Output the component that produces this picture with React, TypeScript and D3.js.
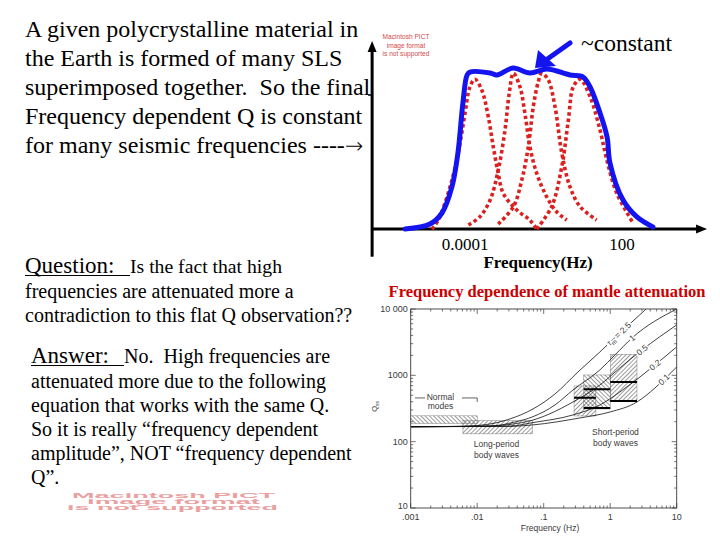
import React from "react";
import * as d3 from "d3";

// ---- top-right sketch: log10(frequency) vs. relative attenuation ----
const envelope: [number, number][] = [
  [-6.29, 0], [-5.34, 0.032], [-4.88, 0.104], [-4.5, 0.273], [-4.27, 0.494], [-4.08, 0.818],
  [-3.92, 1.0], [-3.81, 1.019], [-3.04, 1.013], [-2.78, 1.0], [-2.17, 1.045], [-1.52, 1.013],
  [-0.87, 1.039], [0.01, 1.0], [0.51, 0.987], [0.78, 0.922], [1.16, 0.753], [1.43, 0.597],
  [1.54, 0.429], [2.04, 0.188], [2.57, 0.078], [3.18, 0.013],
];

const peak1: [number, number][] = [
  [-5.27, 0], [-5.02, 0.058], [-4.57, 0.275], [-4.26, 0.492], [-4.0, 0.751], [-3.81, 0.924],
  [-3.62, 0.972], [-3.36, 0.903], [-3.11, 0.729], [-2.92, 0.534], [-2.73, 0.362], [-2.54, 0.232],
  [-2.02, 0.123], [-1.52, 0.058], [-1.26, 0],
];
const peak2: [number, number][] = [
  [-3.87, 0.026], [-3.43, 0.08], [-3.04, 0.188], [-2.73, 0.383], [-2.47, 0.643], [-2.31, 0.881],
  [-2.15, 1.011], [-1.9, 0.924], [-1.71, 0.751], [-1.52, 0.534], [-1.26, 0.362], [-0.88, 0.21],
  [-0.5, 0.112], [-0.11, 0.058],
];
const peak3: [number, number][] = [
  [-2.73, 0.032], [-2.15, 0.145], [-1.83, 0.318], [-1.58, 0.534], [-1.39, 0.794], [-1.2, 0.956],
  [-1.07, 1.011], [-0.82, 0.968], [-0.56, 0.794], [-0.3, 0.492], [0.01, 0.275], [0.4, 0.145],
  [1.03, 0.058],
];
const peak4: [number, number][] = [
  [-1.26, 0], [-0.69, 0.145], [-0.3, 0.405], [-0.05, 0.708], [0.14, 0.924], [0.4, 0.972],
  [0.78, 0.859], [1.16, 0.643], [1.42, 0.448], [1.8, 0.232], [2.43, 0.037],
];
const slsPeaks = [peak1, peak2, peak3, peak4];

const sketchTickLogF = [-4, 2];
const sketchTickLabels = ["0.0001", "100"];

// ---- lower-right figure: Q vs frequency (Hz) ----
const fTicks = [0.001, 0.01, 0.1, 1, 10];
const fTickLabels = [".001", ".01", ".1", "1", "10"];
const qTicks = [10, 100, 1000, 10000];
const qTickLabels = ["10", "100", "1000", "10 000"];

const tauLabels = ["2.5", "1", "0.5", "0.2", "0.1"];
const tauLabelF = [1.35, 2.13, 3.01, 4.72, 6.4];
const qCurves: [number, number][][] = [
  [[0.001, 168], [0.0055, 170], [0.0156, 185], [0.031, 220], [0.069, 311], [0.148, 524], [0.328, 1125], [0.7, 2250], [1.4, 4370], [3.11, 9040], [3.97, 11500]],
  [[0.001, 168], [0.0156, 172], [0.037, 198], [0.069, 238], [0.148, 358], [0.276, 602], [0.7, 1206], [1.18, 2030], [2.13, 3660], [10, 10000]],
  [[0.001, 168], [0.0156, 172], [0.031, 182], [0.069, 212], [0.276, 397], [0.703, 717], [1.4, 1294], [3.01, 2416], [10, 5754]],
  [[0.001, 168], [0.031, 172], [0.069, 194], [0.276, 253], [0.703, 358], [1.4, 562], [2.81, 946], [4.72, 1435], [10, 2680]],
  [[0.001, 168], [0.031, 170], [0.069, 179], [0.352, 228], [0.993, 280], [2.53, 397], [4.72, 646], [10, 1340]],
];

// hatched observation boxes: [f0, f1, q0, q1, hatch]
const obsBoxes: [number, number, number, number, string][] = [
  [0.001, 0.01, 188, 245, "back"],
  [0.0061, 0.068, 131, 207, "fwd"],
  [0.286, 0.61, 244, 692, "fwd"],
  [0.4, 1.0, 311, 1013, "back"],
  [1.0, 2.53, 418, 2080, "fwd"],
];
// thick bars inside short-period boxes: [f0, f1, q]
const obsBars: [number, number, number][] = [
  [0.286, 0.61, 461], [0.4, 1.0, 616], [0.4, 1.0, 322], [1.0, 2.53, 795], [1.0, 2.53, 410],
];

const introLines = [
  "A given polycrystalline material in",
  "the Earth is formed of many SLS",
  "superimposed together.  So the final",
  "Frequency dependent Q is constant",
  "for many seismic frequencies ----",
];
const questionLines = ["frequencies are attenuated more a", "contradiction to this flat Q observation??"];
const answerLines = [
  "attenuated more due to the following",
  "equation that works with the same Q.",
  "So it is really \u201cfrequency dependent",
  "amplitude\u201d, NOT \u201cfrequency dependent",
  "Q\u201d.",
];
const pictLines = ["Macintosh PICT", "image format", "is not supported"];

const serif = "'Liberation Serif', 'Times New Roman', serif";
const sans = "'Liberation Sans', Arial, sans-serif";

export default function App() {
  // sketch scales
  const xs = d3.scaleLinear().domain([-4, 2]).range([465, 622]);
  const ys = d3.scaleLinear().domain([0, 1]).range([229, 75]);
  const sketchLine = d3
    .line<[number, number]>()
    .x((d) => xs(d[0]))
    .y((d) => ys(d[1]))
    .curve(d3.curveCatmullRom.alpha(0.5));

  const x0 = xs(-7.55), x1 = xs(5.25);
  const yTop = ys(1.22), yBot = ys(-0.18), yAxis = ys(0);

  // Q chart scales
  const xq = d3.scaleLog().domain([0.001, 10]).range([410.7, 676.7]);
  const yq = d3.scaleLog().domain([10, 10000]).range([508, 309]);
  const qLine = d3
    .line<[number, number]>()
    .x((d) => xq(d[0]))
    .y((d) => yq(d[1]))
    .curve(d3.curveMonotoneX);

  const [L, R] = xq.range();
  const [B, T] = yq.range();
  const fMinor = xq.ticks();
  const qMinor = yq.ticks();
  const isMajor = (v: number) => Math.abs(Math.log10(v) - Math.round(Math.log10(v))) < 1e-6;

  const qAt = (curve: [number, number][], f: number) => {
    const s = d3.scaleLinear().domain(curve.map((d) => Math.log10(d[0]))).range(curve.map((d) => Math.log10(d[1])));
    return Math.pow(10, s(Math.log10(f)));
  };

  const blue = "#1414f0";
  const red = "#dc2020";
  const ink = "#3a3a3a";

  return (
    <svg width={720} height={540} style={{ position: "absolute", left: 0, top: 0, background: "#fff" }}>
      <defs>
        <pattern id="hFwd" width={3} height={3} patternUnits="userSpaceOnUse" patternTransform="rotate(45)">
          <line x1={0} y1={0} x2={0} y2={3} stroke="#222" strokeWidth={0.9} />
        </pattern>
        <pattern id="hBack" width={3} height={3} patternUnits="userSpaceOnUse" patternTransform="rotate(-45)">
          <line x1={0} y1={0} x2={0} y2={3} stroke="#222" strokeWidth={0.9} />
        </pattern>
        <clipPath id="qClip">
          <rect x={L} y={T} width={R - L} height={B - T} />
        </clipPath>
      </defs>

      {/* ---------- left text ---------- */}
      <g fontFamily={serif} fill="#000">
        {introLines.map((t, i) => (
          <text key={i} x={25} y={37 + i * 29} fontSize={24} style={{ whiteSpace: "pre" }}>
            {t}
            {i === introLines.length - 1 && (
              <tspan fontFamily="'DejaVu Sans', sans-serif" fontSize={22} fontWeight={200}>{"\u2192"}</tspan>
            )}
          </text>
        ))}

        <text x={25} y={273} fontSize={23}>Question:</text>
        <line x1={25} x2={130} y1={275.5} y2={275.5} stroke="#000" strokeWidth={1.2} />
        <text x={130} y={273} fontSize={19.7}>Is the fact that high</text>
        {questionLines.map((t, i) => (
          <text key={i} x={25} y={298 + i * 24} fontSize={20}>
            {t}
          </text>
        ))}

        <text x={31} y={363} fontSize={23}>Answer:</text>
        <line x1={31} x2={124} y1={365.5} y2={365.5} stroke="#000" strokeWidth={1.2} />
        <text x={124} y={363} fontSize={20} style={{ whiteSpace: "pre" }}>No.  High frequencies are</text>
        {answerLines.map((t, i) => (
          <text key={i} x={31} y={388 + i * 24} fontSize={20}>
            {t}
          </text>
        ))}
      </g>

      {/* bottom-left missing picture placeholder */}
      <g fontFamily={sans} fontWeight="bold" fill="#eaa0a0" fontSize={7}>
        <text x={72} y={497.5} textLength={203} lengthAdjust="spacingAndGlyphs">{pictLines[0]}</text>
        <text x={87} y={503.5} textLength={173} lengthAdjust="spacingAndGlyphs">{pictLines[1]}</text>
        <text x={67} y={509.5} textLength={211} lengthAdjust="spacingAndGlyphs">{pictLines[2]}</text>
      </g>

      {/* ---------- top-right sketch ---------- */}
      <g fontFamily={sans} fill="#d24a4a" fontSize={6.6} textAnchor="middle">
        {pictLines.map((t, i) => (
          <text key={i} x={406} y={39 + i * 8.5}>{t}</text>
        ))}
      </g>

      <line x1={x0} x2={x0} y1={yBot} y2={yTop + 8} stroke="#000" strokeWidth={3} />
      <path d={`M${x0},${yTop} L${x0 - 4.5},${yTop + 11} L${x0 + 4.5},${yTop + 11} Z`} fill="#000" />
      <line x1={x0 - 4} x2={x0} y1={ys(0.87)} y2={ys(0.87)} stroke="#000" strokeWidth={1.5} />
      <line x1={x0} x2={x1 - 8} y1={yAxis} y2={yAxis} stroke="#000" strokeWidth={3} />
      <path d={`M${x1},${yAxis} L${x1 - 11},${yAxis - 4.5} L${x1 - 11},${yAxis + 4.5} Z`} fill="#000" />

      {slsPeaks.map((p, i) => (
        <path key={i} d={sketchLine(p) ?? ""} fill="none" stroke={red} strokeWidth={3.6} strokeDasharray="3.5 2.8" />
      ))}
      <path d={sketchLine(envelope) ?? ""} fill="none" stroke={blue} strokeWidth={5} strokeLinejoin="round" strokeLinecap="round" />

      {/* arrow pointing at the plateau */}
      <line x1={570} y1={43} x2={546} y2={60} stroke={blue} strokeWidth={5} strokeLinecap="round" />
      <path d="M535,68 L538,50 L556,66 Z" fill={blue} />
      <text x={581} y={51} fontFamily={serif} fontSize={23.5}>~constant</text>

      <g fontFamily={serif} fontSize={17} textAnchor="middle">
        {sketchTickLogF.map((v, i) => (
          <text key={i} x={xs(v)} y={250}>{sketchTickLabels[i]}</text>
        ))}
        <text x={538} y={268} fontWeight="bold">Frequency(Hz)</text>
      </g>

      {/* ---------- Q figure ---------- */}
      <text x={547} y={297} fontFamily={serif} fontWeight="bold" fontSize={16.5} fill="#cc0000" textAnchor="middle">
        Frequency dependence of mantle attenuation
      </text>

      <g clipPath="url(#qClip)">
        {obsBoxes.map((b, i) => (
          <rect
            key={i}
            x={xq(b[0])}
            y={yq(b[3])}
            width={xq(b[1]) - xq(b[0])}
            height={yq(b[2]) - yq(b[3])}
            fill={b[4] === "fwd" ? "url(#hFwd)" : "url(#hBack)"}
            stroke="#666"
            strokeWidth={0.4}
          />
        ))}
        {qCurves.map((c, i) => (
          <path key={i} d={qLine(c) ?? ""} fill="none" stroke="#111" strokeWidth={0.8} />
        ))}
        {obsBars.map((b, i) => (
          <line key={i} x1={xq(b[0])} x2={xq(b[1])} y1={yq(b[2])} y2={yq(b[2])} stroke="#000" strokeWidth={2} />
        ))}
      </g>

      {/* curve labels */}
      <g fontFamily={sans} fontSize={8.5} fill={ink}>
        {qCurves.map((c, i) => {
          const f = tauLabelF[i];
          const xa = xq(f * 0.9), ya = yq(qAt(c, f * 0.9));
          const xb = xq(f * 1.1), yb = yq(qAt(c, f * 1.1));
          const ang = (Math.atan2(yb - ya, xb - xa) * 180) / Math.PI;
          return (
            <text
              key={i}
              transform={`translate(${xq(f)},${yq(qAt(c, f))}) rotate(${ang})`}
              textAnchor="middle"
              dy="0.35em"
              stroke="#fff"
              strokeWidth={3}
              paintOrder="stroke"
            >
              {i === 0 ? (
                <>
                  {"\u03c4"}
                  <tspan fontSize={6} dy={2}>m</tspan>
                  <tspan dy={-2}>{` = ${tauLabels[i]}`}</tspan>
                </>
              ) : (
                tauLabels[i]
              )}
            </text>
          );
        })}
      </g>

      {/* Normal modes bracket */}
      <g stroke={ink} strokeWidth={0.8}>
        <line x1={xq(0.00116)} x2={xq(0.00164)} y1={yq(456)} y2={yq(456)} />
        <line x1={xq(0.0059)} x2={xq(0.01)} y1={yq(456)} y2={yq(456)} />
        <line x1={xq(0.01)} x2={xq(0.01)} y1={yq(456)} y2={yq(397)} />
      </g>
      <g fontFamily={sans} fontSize={8.5} fill={ink} textAnchor="middle">
        <text x={xq(0.0028)} y={yq(456) + 2}>Normal</text>
        <text x={xq(0.0028)} y={yq(456) + 11.5}>modes</text>
        <text x={xq(0.0195)} y={447}>Long-period</text>
        <text x={xq(0.0195)} y={457.5}>body waves</text>
        <text x={xq(1.2)} y={435}>Short-period</text>
        <text x={xq(1.2)} y={445.5}>body waves</text>
      </g>

      {/* frame and ticks */}
      <rect x={L} y={T} width={R - L} height={B - T} fill="none" stroke={ink} strokeWidth={0.9} />
      <g stroke={ink} strokeWidth={0.7}>
        {fMinor.map((v, i) => {
          const len = isMajor(v) ? 5 : 2.5;
          const x = xq(v);
          return (
            <g key={i}>
              <line x1={x} x2={x} y1={B} y2={B - len} />
              <line x1={x} x2={x} y1={T} y2={T + len} />
            </g>
          );
        })}
        {qMinor.map((v, i) => {
          const len = isMajor(v) ? 5 : 2.5;
          const y = yq(v);
          return (
            <g key={i}>
              <line x1={L} x2={L + len} y1={y} y2={y} />
              <line x1={R} x2={R - len} y1={y} y2={y} />
            </g>
          );
        })}
      </g>
      <g fontFamily={sans} fontSize={9} fill={ink}>
        {qTicks.map((v, i) => (
          <text key={i} x={L - 3} y={yq(v)} dy={i === 0 ? "0.1em" : "0.35em"} textAnchor="end">{qTickLabels[i]}</text>
        ))}
        {fTicks.map((v, i) => (
          <text key={i} x={xq(v)} y={519.5} textAnchor="middle">{fTickLabels[i]}</text>
        ))}
        <text x={550} y={531} textAnchor="middle" fontSize={8.5}>Frequency (Hz)</text>
        <text transform={`translate(377,${yq(340)}) rotate(-90)`} textAnchor="middle" fontSize={7.5}>
          Q<tspan fontSize={5} dy={1.5}>ss</tspan>
        </text>
      </g>
    </svg>
  );
}
